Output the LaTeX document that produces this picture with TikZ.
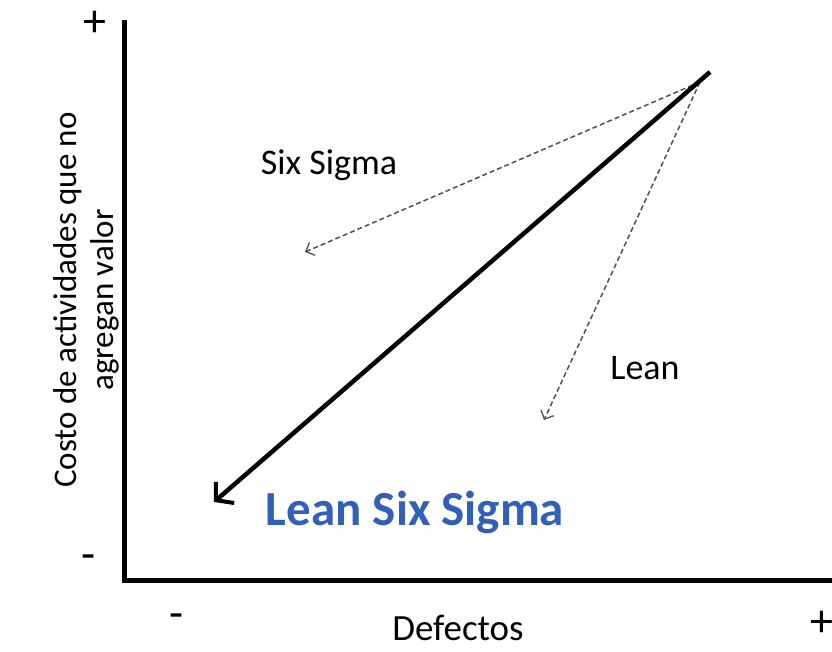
\documentclass[tikz,border=0pt]{standalone}
\usepackage{fontspec}
\setmainfont{Carlito}
\usepackage{xcolor}
\usetikzlibrary{arrows.meta}
\definecolor{lssblue}{RGB}{50,96,184}
\definecolor{dashgray}{RGB}{80,80,80}
\def\lblsize{\fontsize{36}{40}\selectfont}
\def\ylblsize{\fontsize{33}{37}\selectfont}
\def\signsize{\fontsize{46}{50}\selectfont}

\begin{document}
\begin{tikzpicture}[x=1pt, y=-1pt,
		axis/.style={line width=5pt},
		route/.style={dashgray, line width=1.5pt, dash pattern=on 5pt off 3pt, -{Straight Barb[length=7pt,width=14pt,line width=1.3pt]}},
		lssarrow/.style={line width=4.5pt, -{Straight Barb[length=12pt,width=28pt,line width=4pt]}},
		lbl/.style={inner sep=0pt, font=\lblsize},
		sign/.style={inner sep=0pt, font=\signsize}]
	\useasboundingbox (0,0) rectangle (832,651);
	% axes
	\coordinate (top) at (124,20);
	\coordinate (corner) at (124,580);
	\coordinate (right) at (832,580);
	\draw[axis] (top) -- (corner) -- (right);
	\node[sign] (yplus)  at (95,24)  {+};
	\node[sign] (yminus) at (89,562) {-};
	\node[sign] (xminus) at (177,621) {-};
	\node[sign] (xplus)  at (822,624) {+};
	\node[lbl, font=\fontsize{37}{40}\selectfont] (xlabel) at (458,628) {Defectos};
	\node[inner sep=0pt, font=\ylblsize, align=center, rotate=90] (ylabel) at (86,300)
		{Costo de actividades que no\\agregan valor};
	% strategies
	\coordinate (start) at (700,82);
	\coordinate (sixend) at (305,252);
	\coordinate (leanend) at (544,420);
	\draw[route] (start) -- (sixend);
	\draw[route] (start) -- (leanend);
	\draw[lssarrow] (710,72) coordinate (lsstail) -- (214,502) coordinate (lsshead);
	\node[lbl] (six)  at (329,165) {Six Sigma};
	\node[lbl] (lean) at (645,368) {Lean};
	\node[inner sep=0pt, font=\fontsize{49}{54}\selectfont\bfseries, text=lssblue] (lss) at (415,512) {Lean Six Sigma};
\end{tikzpicture}
\end{document}
